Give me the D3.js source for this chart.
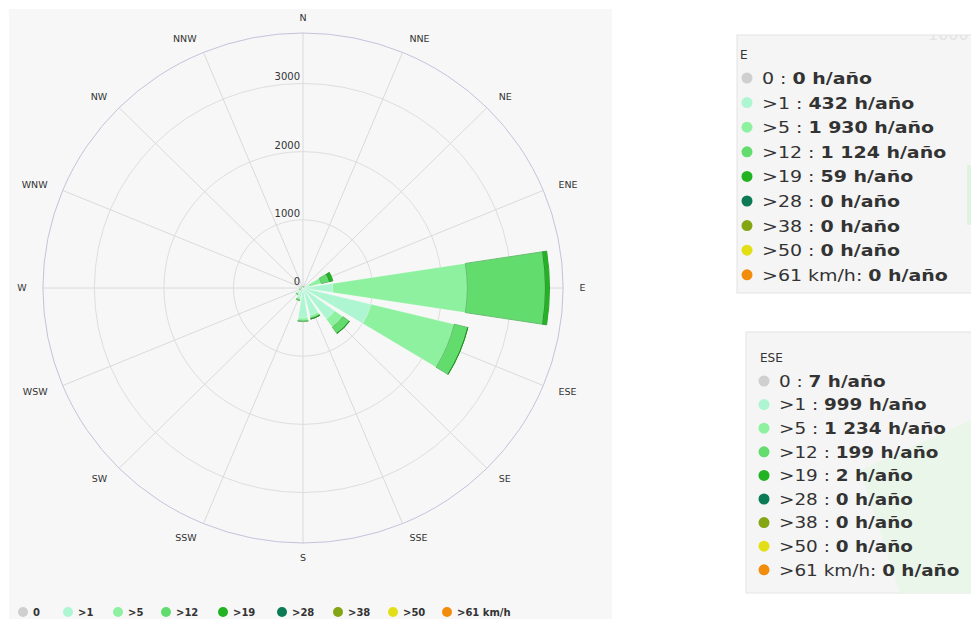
<!DOCTYPE html>
<html><head><meta charset="utf-8">
<script src="https://cdn.jsdelivr.net/npm/d3@7"></script>
<style>body{margin:0;background:#fff}svg{display:block}</style>
</head><body>
<script>
const directions = ["N","NNE","NE","ENE","E","ESE","SE","SSE","S","SSW","SW","WSW","W","WNW","NW","NNW"];
const speedBins = ["0",">1",">5",">12",">19",">28",">38",">50",">61 km/h"];
const binColors = ["#cfcfcf","#aef5d2","#8ef19f","#62dc6d","#22b322","#0b7a55","#84a514","#e3df17","#f28c0c"];
const s0   = [2,1,1,2,0,7,4,3,3,2,1,1,1,1,1,2];
const s1   = [15,10,12,90,432,999,560,410,440,150,100,40,20,12,10,12];
const s5   = [5,3,4,180,1930,1234,150,40,40,30,20,6,4,3,2,3];
const s12  = [1,1,1,120,1124,199,110,15,10,10,5,1,1,0,0,0];
const s19  = [0,0,0,50,59,2,5,1,0,0,0,0,0,0,0,0];
const s28  = [0,0,0,0,0,0,0,0,0,0,0,0,0,0,0,0];
const s38  = [0,0,0,0,0,0,0,0,0,0,0,0,0,0,0,0];
const s50  = [0,0,0,0,0,0,0,0,0,0,0,0,0,0,0,0];
const s61  = [0,0,0,0,0,0,0,0,0,0,0,0,0,0,0,0];
const seriesValues = [s0,s1,s5,s12,s19,s28,s38,s50,s61];
const radialTicks = [0,1000,2000,3000];
const radialMax = 3740;
const tooltipE = {title:"E", values:[0,432,1930,1124,59,0,0,0,0]};
const tooltipESE = {title:"ESE", values:[7,999,1234,199,2,0,0,0,0]};

const W = 971, H = 619;
const cx = 303, cy = 288, R = 255, sx = 1.02;
const svg = d3.select("body").append("svg").attr("width",W).attr("height",H);
svg.append("rect").attr("width",W).attr("height",H).attr("fill","#fff");
svg.append("rect").attr("x",9).attr("y",9).attr("width",603).attr("height",610).attr("fill","#f7f7f7");

const r = d3.scaleLinear().domain([0,radialMax]).range([0,R]);
const step = 2*Math.PI/directions.length;

const g = svg.append("g").attr("transform",`translate(${cx},${cy}) scale(${sx},1)`);
g.selectAll("circle.ring").data(radialTicks.filter(d=>d>0)).join("circle")
  .attr("r",d=>r(d)).attr("fill","none").attr("stroke","#dedede").attr("stroke-width",1).attr("vector-effect","non-scaling-stroke");
g.selectAll("line.spoke").data(directions).join("line")
  .attr("x1",0).attr("y1",0)
  .attr("x2",(d,i)=>R*Math.sin(i*step)).attr("y2",(d,i)=>-R*Math.cos(i*step))
  .attr("stroke","#dadada").attr("stroke-width",1).attr("vector-effect","non-scaling-stroke");
g.append("circle").attr("r",R).attr("fill","none").attr("stroke","#c3c3dc").attr("stroke-width",1).attr("vector-effect","non-scaling-stroke");

const table = directions.map((d,i)=>{const o={dir:d}; speedBins.forEach((b,k)=>o[b]=seriesValues[k][i]); return o;});
const stacked = d3.stack().keys(speedBins)(table);
const arc = d3.arc();
const half = step*0.39;
const segPath = (d,i)=>{
  if(d[1]-d[0] <= 0) return null;
  const a = i*step;
  return arc({innerRadius:r(d[0]),outerRadius:r(d[1]),startAngle:a-half,endAngle:a+half});
};
stacked.forEach((layer,k)=>{
  g.append("g").selectAll("path").data(layer).join("path")
    .attr("d",segPath)
    .attr("fill",binColors[k]).attr("stroke","rgba(255,255,255,0.35)").attr("stroke-width",0.6).attr("vector-effect","non-scaling-stroke");
});
stacked.forEach((layer,k)=>{
  if(k<3) return;
  g.append("g").selectAll("path").data(layer).join("path")
    .attr("d",segPath)
    .attr("fill","none").attr("stroke",d3.color(binColors[k]).darker(0.6)).attr("stroke-width",0.8).attr("vector-effect","non-scaling-stroke");
});

svg.append("g").selectAll("text").data(radialTicks).join("text")
  .attr("x",300).attr("y",d=>cy - r(d) - 3)
  .attr("text-anchor","end").attr("font-family","DejaVu Sans, sans-serif").attr("font-size",10).attr("fill","#333")
  .text(d=>d);

const LR = 270;
svg.append("g").selectAll("text").data(directions).join("text")
  .attr("x",(d,i)=>cx + sx*LR*Math.sin(i*step) + (i===0||i===8?0:(i<8?1:-1)))
  .attr("y",(d,i)=>cy - LR*Math.cos(i*step))
  .attr("dy","0.35em")
  .attr("text-anchor",(d,i)=> i===0||i===8 ? "middle" : (i<8?"start":"end"))
  .attr("font-family","DejaVu Sans, sans-serif").attr("font-size",9.5).attr("fill","#333")
  .text(d=>d);

const legendX = [23,68,118,166,223,282,338,393,447];
const lg = svg.append("g");
speedBins.forEach((b,k)=>{
  lg.append("circle").attr("cx",legendX[k]).attr("cy",612).attr("r",5).attr("fill",binColors[k]);
  lg.append("text").attr("x",legendX[k]+10).attr("y",612).attr("dy","0.36em")
    .attr("font-family","DejaVu Sans, sans-serif").attr("font-size",10).attr("font-weight","bold").attr("fill","#333").text(b);
});

const defs = svg.append("defs");
function tooltip(id, x, y, w, h){
  defs.append("clipPath").attr("id",id).append("rect").attr("x",x).attr("y",y).attr("width",w).attr("height",h);
  const tg = svg.append("g");
  tg.append("rect").attr("x",x).attr("y",y).attr("width",w).attr("height",h).attr("fill","#f5f5f5").attr("stroke","#e4e4e4");
  return tg;
}
function fmt(v){ return d3.format(",")(v).replace(/,/g," "); }
function fillTooltip(tg, t, titleX, titleY, circX, rowX, rowY0, rowStep, fs, kx){
  tg.append("text").attr("x",titleX).attr("y",titleY).attr("dy","0.35em").attr("font-family","DejaVu Sans, sans-serif").attr("font-size",12).attr("fill","#333").text(t.title);
  speedBins.forEach((b,k)=>{
    const yy = rowY0 + k*rowStep;
    tg.append("circle").attr("cx",circX).attr("cy",yy).attr("r",5.5).attr("fill",binColors[k]);
    const tx = tg.append("text").attr("transform",`translate(${rowX},${yy}) scale(${kx},1)`).attr("dy","0.36em").attr("font-family","DejaVu Sans, sans-serif").attr("font-size",fs).attr("fill","#333");
    tx.append("tspan").text(b + (k===8 ? ": " : " : "));
    tx.append("tspan").attr("font-weight","bold").text(fmt(t.values[k]) + " h/año");
  });
}
const t1 = tooltip("clip1", 737, 35, 240, 258);
t1.append("text").attr("x",928).attr("y",40).attr("clip-path","url(#clip1)").attr("font-family","DejaVu Sans, sans-serif").attr("font-size",16).attr("fill","#e4e4e4").text("1000");
t1.append("rect").attr("x",967).attr("y",165).attr("width",4).attr("height",60).attr("fill","#dff3df");
fillTooltip(t1, tooltipE, 740, 55, 747, 762, 78, 24.6, 16.5, 1.15);
const t2 = tooltip("clip2", 746, 332, 240, 261);
t2.append("path").attr("d","M 971 420 L 860 470 L 900 593 L 971 593 Z").attr("fill","#e8f6e8").attr("opacity",0.8);
fillTooltip(t2, tooltipESE, 760, 358, 764, 779, 381, 23.6, 16, 1.15);
</script>
</body></html>
